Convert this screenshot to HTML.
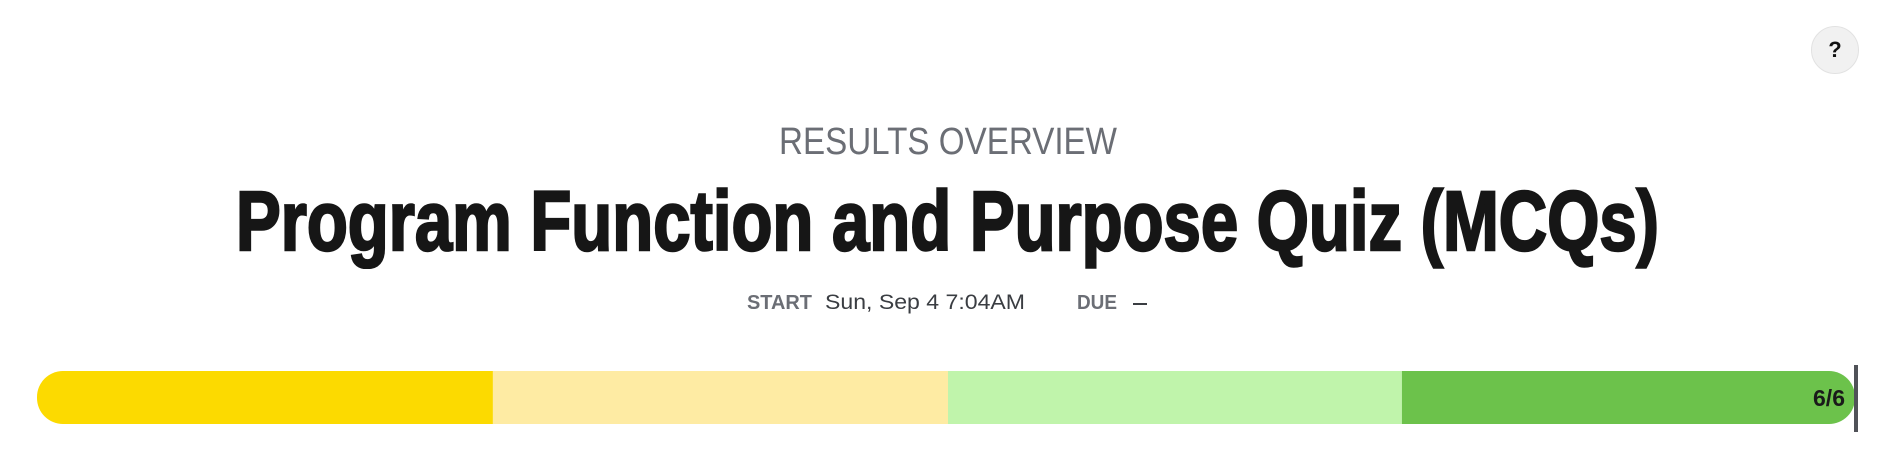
<!DOCTYPE html>
<html><head><meta charset="utf-8"><style>
body{margin:0;width:1885px;height:469px;background:#fff;font-family:"Liberation Sans",sans-serif;position:relative;overflow:hidden}
.abs{position:absolute;white-space:nowrap}
</style></head><body>
<div class="abs" style="left:1811px;top:26px;width:46px;height:46px;border-radius:50%;background:#f1f1f1;border:1px solid #e2e2e2;text-align:center;line-height:46px;font-weight:bold;font-size:22px;color:#111">?</div>
<div class="abs fit" data-w="338" style="left:779px;top:121px;font-size:38px;color:#6b6e75">RESULTS OVERVIEW</div>
<div class="abs fit" data-w="1423" style="left:236px;top:173px;font-size:84px;font-weight:bold;color:#161616;-webkit-text-stroke:2.5px #161616">Program Function and Purpose Quiz (MCQs)</div>
<div class="abs fit" data-w="65" style="left:747px;top:292px;font-size:20px;font-weight:bold;color:#6b6e75">START</div>
<div class="abs fit" data-w="200" style="left:825px;top:291px;font-size:21px;color:#3a3d42">Sun, Sep 4 7:04AM</div>
<div class="abs fit" data-w="40" style="left:1077px;top:292px;font-size:20px;font-weight:bold;color:#6b6e75">DUE</div>
<div class="abs" style="left:1133px;top:303px;width:14px;height:2px;background:#3a3d42"></div>
<svg class="abs" id="bar" style="left:0;top:0" width="1885" height="469"></svg>
<script>
const segValues=[1,1,1,1];
const segColors=['#fcda00','#feeba3','#c0f4ab','#6cc24b'];
const scoreLabel='6/6';
const svg=document.getElementById('bar');const NS='http://www.w3.org/2000/svg';
const x0=37,x1=1855,y0=371,h=53;
const total=segValues.reduce((a,b)=>a+b,0);
const xs=v=>x0+(x1-x0)*v/total+2*Math.sin(Math.PI*v/total);
const defs=document.createElementNS(NS,'clipPath');defs.setAttribute('id','cp');
const cr=document.createElementNS(NS,'rect');cr.setAttribute('x',x0);cr.setAttribute('y',y0);cr.setAttribute('width',x1-x0);cr.setAttribute('height',h);cr.setAttribute('rx',26);
defs.appendChild(cr);svg.appendChild(defs);
let acc=0;
segValues.forEach((v,i)=>{const r=document.createElementNS(NS,'rect');


r.setAttribute('x',xs(acc));r.setAttribute('width',xs(acc+v)-xs(acc));r.setAttribute('y',y0);r.setAttribute('height',h);r.setAttribute('fill',segColors[i]);r.setAttribute('clip-path','url(#cp)');svg.appendChild(r);acc+=v;});
const ln=document.createElementNS(NS,'rect');


ln.setAttribute('x',1854);ln.setAttribute('y',365);ln.setAttribute('width',4);ln.setAttribute('height',67);ln.setAttribute('fill','#505258');svg.appendChild(ln);
const t=document.createElementNS(NS,'text');


t.setAttribute('x',1845);t.setAttribute('y',406);t.setAttribute('text-anchor','end');t.setAttribute('font-size','23');t.setAttribute('font-weight','bold');t.setAttribute('fill','#1a1a1a');t.setAttribute('font-family','Liberation Sans, sans-serif');t.textContent=scoreLabel;svg.appendChild(t);
document.querySelectorAll('.fit').forEach(e=>{const w=+e.dataset.w;const cw=e.getBoundingClientRect().width;e.style.transformOrigin='0 0';e.style.transform='scaleX('+(w/cw)+')';});
</script>
</body></html>
